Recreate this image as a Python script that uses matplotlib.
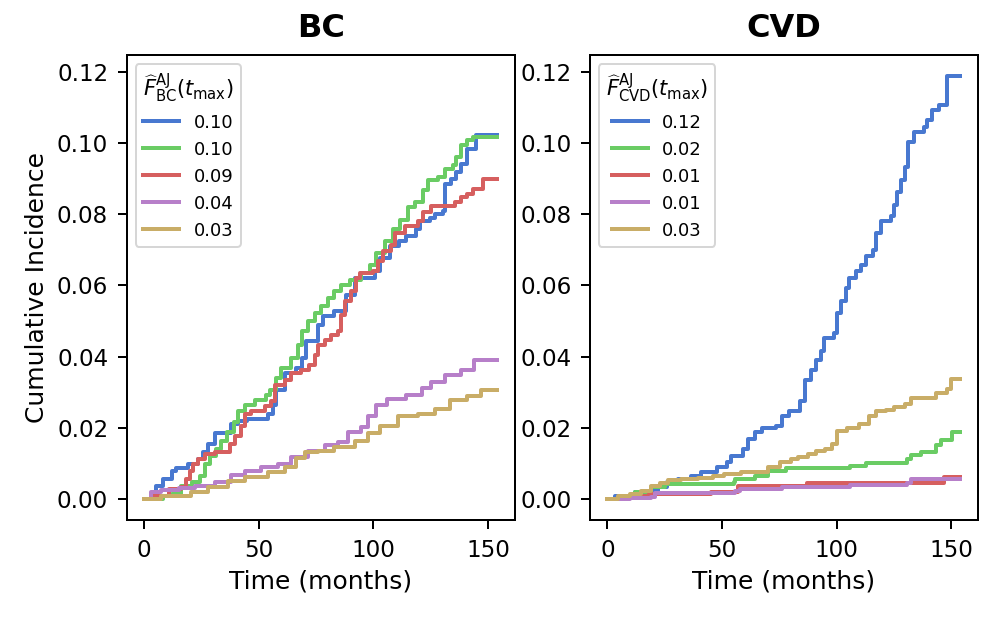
import numpy as np
import matplotlib.pyplot as plt

# step knots (time in months, cumulative incidence)
bc_t = {}
bc_v = {}
bc_t['blue'] = [0, 5, 8, 12, 14, 19, 23.5, 25.7, 28, 31, 38, 41, 45, 54, 56, 57.6, 61.5, 66, 69, 70.7, 76, 78, 83, 88, 92, 100.7, 103, 107, 111, 114, 118.7, 120.4, 124.7, 127, 130.4, 131, 134, 136, 138, 140.6, 144.8, 154]
bc_v['blue'] = [0, 0.0037, 0.0056, 0.008, 0.0088, 0.0099, 0.0113, 0.0132, 0.0155, 0.0184, 0.0212, 0.022, 0.0226, 0.024, 0.0263, 0.0305, 0.0353, 0.0367, 0.0395, 0.0443, 0.0489, 0.0514, 0.0528, 0.0573, 0.0621, 0.0641, 0.0678, 0.0712, 0.0726, 0.074, 0.0757, 0.0782, 0.079, 0.08, 0.081, 0.0884, 0.0898, 0.0918, 0.094, 0.0983, 0.1022, 0.1022]
bc_t['green'] = [0, 8, 12, 16, 21, 24.4, 26.5, 28.8, 31.4, 33.6, 36, 39, 41, 44, 48.4, 53, 55, 57.6, 59.8, 64, 67, 69, 71.5, 74.5, 77, 80, 83, 86, 89.8, 94.6, 98.5, 101, 105, 108.6, 111.6, 115, 118, 121.7, 124, 128, 131, 134.7, 136, 138, 141, 143.5, 154]
bc_v['green'] = [0, 0.0008, 0.0014, 0.0037, 0.0048, 0.0065, 0.0099, 0.0121, 0.014, 0.0164, 0.0189, 0.0217, 0.0246, 0.0263, 0.0277, 0.0291, 0.0305, 0.0339, 0.0367, 0.0395, 0.0432, 0.0472, 0.05, 0.0522, 0.0542, 0.0565, 0.0584, 0.0602, 0.0616, 0.0635, 0.0658, 0.0692, 0.0726, 0.0757, 0.0785, 0.0819, 0.0833, 0.0867, 0.0895, 0.0904, 0.0926, 0.0938, 0.096, 0.0994, 0.1008, 0.1018, 0.1018]
bc_t['red'] = [0, 3, 11, 16, 18, 20, 21.4, 23.5, 26.5, 31, 37.5, 39.7, 42, 44, 46.7, 52.8, 55.4, 57, 61.5, 64, 68.5, 72, 74.5, 76, 79, 81.6, 84.6, 86, 87.6, 90.3, 92.5, 94, 99.8, 102, 104, 107.8, 109.4, 113.8, 119.5, 121.7, 125, 135.6, 138, 141, 143.5, 147.8, 154]
bc_v['red'] = [0, 0.0008, 0.0028, 0.0034, 0.0056, 0.0079, 0.0099, 0.0113, 0.0127, 0.0132, 0.0155, 0.0178, 0.0206, 0.024, 0.0248, 0.026, 0.0274, 0.0319, 0.0333, 0.0353, 0.0361, 0.0376, 0.0404, 0.0432, 0.0446, 0.046, 0.0472, 0.0517, 0.0556, 0.0584, 0.0621, 0.0635, 0.0641, 0.0669, 0.0697, 0.0714, 0.0748, 0.0768, 0.0782, 0.0805, 0.0822, 0.0833, 0.0847, 0.0856, 0.087, 0.0898, 0.0898]
bc_t['purple'] = [0, 3, 7.4, 15, 22, 31, 38, 44, 51, 58.4, 64, 71.5, 79, 84.6, 89, 94.6, 97.7, 101, 106, 114, 121, 125, 131, 138, 144, 154]
bc_v['purple'] = [0, 0.002, 0.0025, 0.003, 0.0037, 0.0048, 0.0068, 0.0079, 0.009, 0.0099, 0.0119, 0.0136, 0.0153, 0.0161, 0.0189, 0.0203, 0.0232, 0.0263, 0.0282, 0.0291, 0.0311, 0.033, 0.0347, 0.0361, 0.039, 0.039]
bc_t['gold'] = [0, 7.4, 20.5, 28, 36.6, 44, 54, 61.5, 66, 70, 76, 83, 92, 97.7, 103, 110.8, 119.5, 127, 133.5, 141, 147, 154]
bc_v['gold'] = [0, 0.0008, 0.002, 0.0034, 0.0051, 0.0062, 0.0076, 0.009, 0.0116, 0.0133, 0.0136, 0.0147, 0.0164, 0.0184, 0.0206, 0.0234, 0.024, 0.0254, 0.0277, 0.0288, 0.0305, 0.0305]

cvd_t = {}
cvd_v = {}
cvd_t['blue'] = [0, 3.5, 12, 17.5, 22, 26, 30.7, 36.4, 41, 48, 52, 54, 59, 61.4, 64.4, 67.3, 73.7, 76, 79, 84, 86.4, 88.6, 90.8, 93, 94.3, 98.7, 100, 101.7, 104, 105.3, 108.3, 110.5, 112.7, 116, 117, 119.3, 123.7, 125, 126.3, 128, 130, 131, 133.8, 138, 139.5, 141.7, 144.7, 148, 154]
cvd_v['blue'] = [0, 0.0008, 0.002, 0.0023, 0.0034, 0.0048, 0.0056, 0.0065, 0.0076, 0.009, 0.0104, 0.0121, 0.014, 0.0169, 0.0189, 0.0198, 0.0206, 0.0234, 0.0248, 0.0274, 0.0333, 0.0361, 0.039, 0.0415, 0.0452, 0.0466, 0.0522, 0.0556, 0.0593, 0.0621, 0.0641, 0.0658, 0.0683, 0.07, 0.0748, 0.0782, 0.0796, 0.0827, 0.0861, 0.0895, 0.0932, 0.1003, 0.1031, 0.1045, 0.1065, 0.1093, 0.1107, 0.1188, 0.1188]
cvd_t['green'] = [0, 5.7, 12, 19, 25, 55, 55.6, 64.4, 70, 78, 106, 112.7, 130.7, 132.4, 137, 143.4, 145.6, 150.4, 154]
cvd_v['green'] = [0, 0.0006, 0.002, 0.0034, 0.0042, 0.0048, 0.0056, 0.0065, 0.0079, 0.0088, 0.0093, 0.01, 0.0113, 0.0124, 0.0133, 0.0153, 0.0167, 0.0189, 0.0189]
cvd_t['red'] = [0, 8, 18, 45, 57, 87, 147, 154]
cvd_v['red'] = [0, 0.0008, 0.0014, 0.002, 0.0037, 0.0045, 0.0062, 0.0062]
cvd_t['purple'] = [0, 10, 19, 20.6, 55.6, 58, 76, 106, 130.7, 132.4, 154]
cvd_v['purple'] = [0, 0.0003, 0.0006, 0.0017, 0.0023, 0.0028, 0.0034, 0.0038, 0.0045, 0.0055, 0.0055]
cvd_t['gold'] = [0, 4.4, 10, 14.5, 19, 22.8, 26.3, 32, 39.5, 46, 51, 58.3, 70, 75.4, 80.3, 83.3, 87.7, 90.8, 95, 98, 100, 104.4, 109.6, 114, 117, 121.5, 125, 130, 132.4, 143.4, 148, 150, 154]
cvd_v['gold'] = [0, 0.0008, 0.0014, 0.0023, 0.0037, 0.0045, 0.0054, 0.0056, 0.0059, 0.0065, 0.0071, 0.0076, 0.009, 0.0104, 0.0113, 0.0119, 0.0127, 0.0136, 0.014, 0.0155, 0.0192, 0.0198, 0.0212, 0.0232, 0.0246, 0.0249, 0.0257, 0.0268, 0.0285, 0.0299, 0.0308, 0.0336, 0.0336]

groups = ['blue', 'green', 'red', 'purple', 'gold']
colors = {'blue': '#4878d0', 'green': '#6acc64', 'red': '#d65f5f',
          'purple': '#b77fc9', 'gold': '#c9ad67'}
bc_labels = ['0.10', '0.10', '0.09', '0.04', '0.03']
cvd_labels = ['0.12', '0.02', '0.01', '0.01', '0.03']

fig, (ax1, ax2) = plt.subplots(1, 2, figsize=(997 / 144, 617 / 144), dpi=144, sharey=True)
fig.subplots_adjust(left=0.127, right=0.981, bottom=0.157, top=0.911, wspace=0.193)

for g, lab in zip(groups, bc_labels):
    ax1.step(bc_t[g], bc_v[g], where='post', color=colors[g], lw=2, label=lab)
for g, lab in zip(groups, cvd_labels):
    ax2.step(cvd_t[g], cvd_v[g], where='post', color=colors[g], lw=2, label=lab)

ax1.set_title('BC', fontsize=16, fontweight='bold', pad=9)
ax2.set_title('CVD', fontsize=16, fontweight='bold', pad=9)
for ax in (ax1, ax2):
    ax.set_xlabel('Time (months)', fontsize=12.5)
    ax.tick_params(labelsize=11.5, length=4.7, width=1, pad=4.5)
    ax.yaxis.set_tick_params(labelleft=True)
    for s in ax.spines.values():
        s.set_linewidth(1)
ax1.set_ylabel('Cumulative Incidence', fontsize=12.5)

ax1.legend(title=r'$\widehat{F}^{\mathrm{AJ}}_{\mathrm{BC}}(t_{\max})$', loc='upper left',
           fontsize=9, title_fontsize=10.5)
ax2.legend(title=r'$\widehat{F}^{\mathrm{AJ}}_{\mathrm{CVD}}(t_{\max})$', loc='upper left',
           fontsize=9, title_fontsize=10.5)

plt.savefig('out.png', dpi=144)
